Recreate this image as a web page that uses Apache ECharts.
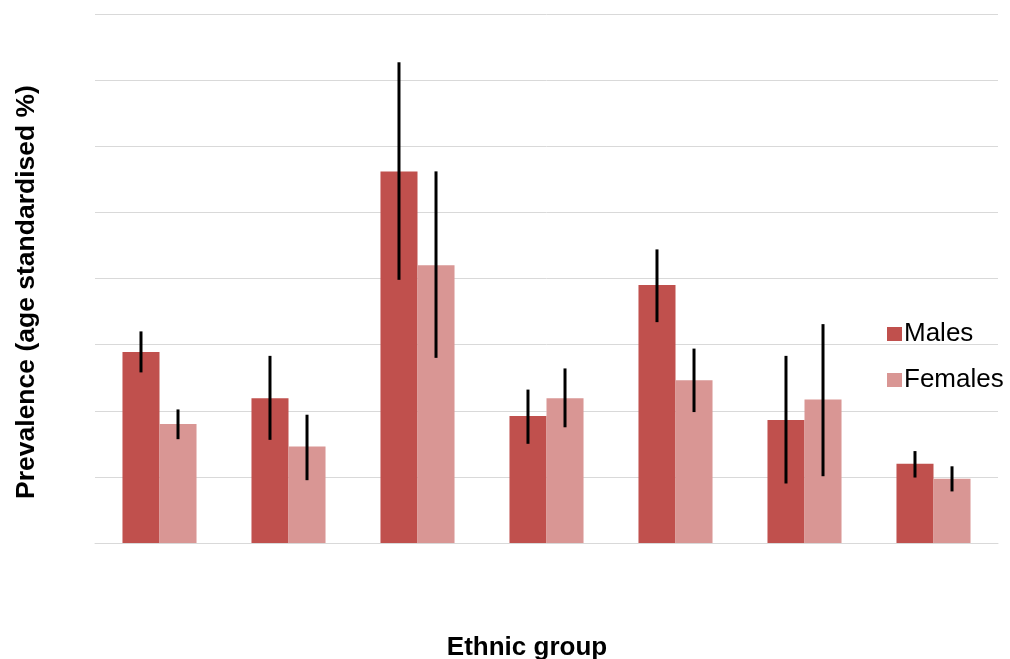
<!DOCTYPE html>
<html>
<head>
<meta charset="utf-8">
<script src="https://cdn.jsdelivr.net/npm/echarts@6/dist/echarts.min.js"></script>
<style>html,body{margin:0;padding:0;background:#fff}#chart{width:1010px;height:659px}</style>
</head>
<body>
<div id="chart"></div>
<script>
var categories = ['G1', 'G2', 'G3', 'G4', 'G5', 'G6', 'G7'];
var males = [2.89, 2.19, 5.62, 1.92, 3.90, 1.86, 1.20];
var females = [1.80, 1.46, 4.20, 2.19, 2.46, 2.17, 0.97];
var malesLow = [2.58, 1.56, 3.98, 1.50, 3.34, 0.90, 0.99];
var malesHigh = [3.20, 2.83, 7.27, 2.32, 4.44, 2.83, 1.39];
var femalesLow = [1.57, 0.95, 2.80, 1.75, 1.98, 1.01, 0.78];
var femalesHigh = [2.02, 1.94, 5.62, 2.64, 2.94, 3.31, 1.16];

var CAT_GAP = 0.426;
var FONT = '"Liberation Sans", Arial, sans-serif';

function errData(lo, hi) {
  return categories.map(function (c, i) { return [i, lo[i], hi[i]]; });
}
function errRender(side) {
  return function (params, api) {
    var idx = api.value(0);
    var band = api.size([1, 0])[0];
    var barW = band * (1 - CAT_GAP) / 2;
    var lo = api.coord([idx, api.value(1)]);
    var hi = api.coord([idx, api.value(2)]);
    var x = lo[0] + side * barW / 2;
    return {
      type: 'line',
      shape: { x1: x, y1: hi[1], x2: x, y2: lo[1] },
      style: { stroke: '#000', lineWidth: 3 }
    };
  };
}

var chart = echarts.init(document.getElementById('chart'), null, { renderer: 'canvas' });
chart.setOption({
  animation: false,
  grid: { left: 95, right: 12, top: 14, bottom: 116, containLabel: false },
  legend: {
    orient: 'vertical',
    left: 882,
    top: 316,
    icon: 'rect',
    itemWidth: 15,
    itemHeight: 14,
    itemGap: 20,
    data: ['Males', 'Females'],
    textStyle: { fontFamily: FONT, fontSize: 26, color: '#000', lineHeight: 26, padding: [0, 0, 0, -3] }
  },
  xAxis: {
    type: 'category',
    data: categories,
    axisLine: { show: true, lineStyle: { color: '#d9d9d9', width: 1 } },
    axisTick: { show: false },
    axisLabel: { show: false },
    splitLine: { show: false }
  },
  yAxis: {
    type: 'value',
    min: 0,
    max: 8,
    interval: 1,
    axisLine: { show: false },
    axisTick: { show: false },
    axisLabel: { show: false },
    splitLine: { show: true, lineStyle: { color: '#d9d9d9', width: 1 } }
  },
  series: [
    {
      name: 'Males', type: 'bar', data: males,
      barGap: 0, barCategoryGap: (CAT_GAP * 100) + '%',
      itemStyle: { color: '#C0504D' }
    },
    {
      name: 'Females', type: 'bar', data: females,
      barGap: 0, barCategoryGap: (CAT_GAP * 100) + '%',
      itemStyle: { color: '#D99694' }
    },
    {
      name: 'MalesErr', type: 'custom', renderItem: errRender(-1),
      data: errData(malesLow, malesHigh), z: 10, silent: true
    },
    {
      name: 'FemalesErr', type: 'custom', renderItem: errRender(1),
      data: errData(femalesLow, femalesHigh), z: 10, silent: true
    }
  ],
  graphic: [
    {
      type: 'text', x: 27, y: 292, rotation: Math.PI / 2,
      style: {
        text: 'Prevalence (age standardised %)',
        fontFamily: FONT, fontSize: 26.5, fontWeight: 'bold', fill: '#000',
        textAlign: 'center', textVerticalAlign: 'middle'
      }
    },
    {
      type: 'text', x: 527, y: 648,
      style: {
        text: 'Ethnic group',
        fontFamily: FONT, fontSize: 26, fontWeight: 'bold', fill: '#000',
        textAlign: 'center', textVerticalAlign: 'middle'
      }
    }
  ]
});
</script>
</body>
</html>
